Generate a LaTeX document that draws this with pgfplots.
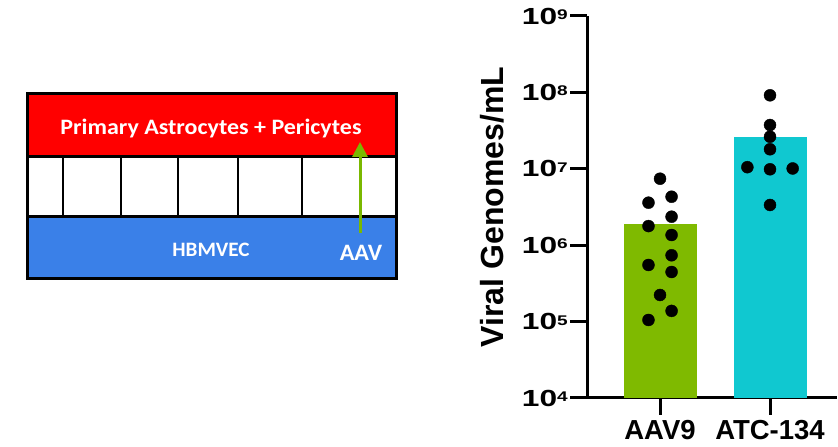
\documentclass[border=0pt]{standalone}
\usepackage{fontspec}
\setmainfont{Liberation Sans}
\newfontfamily\carlito{Carlito}
\usepackage{pgfplots}
\pgfplotsset{compat=1.18}
\usetikzlibrary{arrows.meta}
\definecolor{barGreen}{HTML}{7FBA00}
\definecolor{barCyan}{HTML}{10C8D0}
\definecolor{cellRed}{HTML}{FF0000}
\definecolor{cellBlue}{HTML}{3A80E8}
\definecolor{arrowGreen}{HTML}{7AB800}
\newcommand{\tl}[1]{\scalebox{1.36}[1]{\fontsize{23.3}{23.3}\selectfont\bfseries 10\raisebox{4.5pt}{\fontsize{14}{14}\selectfont\bfseries #1}}}
\begin{document}
\begin{tikzpicture}[x=1pt,y=1pt]
\useasboundingbox (0,0) rectangle (838,447);
% schematic
\fill[cellRed] (27,290) rectangle (396,353);
\fill[white] (27,230) rectangle (396,290);
\fill[cellBlue] (27,168) rectangle (396,230);
\draw[line width=2pt] (63,230)--(63,290) (121,230)--(121,290) (178,230)--(178,290) (238,230)--(238,290) (302,230)--(302,290);
\draw[line width=3pt] (27,290)--(396,290) (27,230)--(396,230);
\draw[line width=3pt] (27,168) rectangle (396,353);
\node[text=white, font=\carlito\bfseries\fontsize{22}{22}\selectfont] at (211,318) {\scalebox{1.09}[1]{Primary Astrocytes + Pericytes}};
\node[text=white, font=\carlito\bfseries\fontsize{20.5}{20.5}\selectfont] at (211,197) {\scalebox{1.03}[1]{HBMVEC}};
\node[text=white, font=\carlito\bfseries\fontsize{23.5}{23.5}\selectfont] at (361,194) {\scalebox{1.03}[1]{AAV}};
\draw[arrowGreen, line width=3pt, -{Triangle[length=15pt,width=15pt]}] (360,214) -- (360,305);
% chart
\begin{axis}[
  at={(587pt,49pt)}, anchor=south west,
  width=250pt, height=382pt, scale only axis,
  xmin=-0.664, xmax=1.609,
  ymode=log, ymin=1e4, ymax=1e9,
  axis x line*=bottom, axis y line*=left,
  axis line style={line width=3pt,-},
  major tick style={line width=3pt, black},
  major tick length=17pt, tick align=outside,
  yminorticks=false,
  xtick={0,1}, xticklabels={AAV9,ATC-134},
  ytick={1e4,1e5,1e6,1e7,1e8,1e9},
  yticklabels={\tl{4},\tl{5},\tl{6},\tl{7},\tl{8},\tl{9}},
  yticklabel style={inner sep=2pt},
  xticklabel style={font=\fontsize{27.5}{27.5}\selectfont\bfseries, inner sep=3pt, yshift=-2pt},
  ylabel={Viral Genomes/mL},
  ylabel style={font=\fontsize{32}{32}\selectfont\bfseries, at={(axis description cs:-0.38,0.5)}, anchor=center},
]
\addplot[ybar, bar shift=0pt, bar width=73pt, fill=barGreen, draw=none] coordinates {(0,1.89e6)};
\addplot[ybar, bar shift=0pt, bar width=73pt, fill=barCyan, draw=none] coordinates {(1,2.58e7)};
\addplot[only marks, mark=*, mark size=6pt, black] coordinates {
(0,7.42e6) (-0.105,3.60e6) (0.105,4.31e6) (-0.105,1.78e6) (0.105,2.36e6) (0.105,1.36e6)
(-0.105,5.51e5) (0.105,7.38e5) (0.105,4.46e5) (0,2.23e5) (0.105,1.38e5) (-0.105,1.05e5)};
\addplot[only marks, mark=*, mark size=6pt, black] coordinates {
(1,9.16e7) (1,3.74e7) (1,2.63e7) (1,1.80e7) (0.794,1.05e7) (1,9.85e6) (1.206,1.01e7) (1,3.36e6)};
\end{axis}
\end{tikzpicture}
\end{document}
